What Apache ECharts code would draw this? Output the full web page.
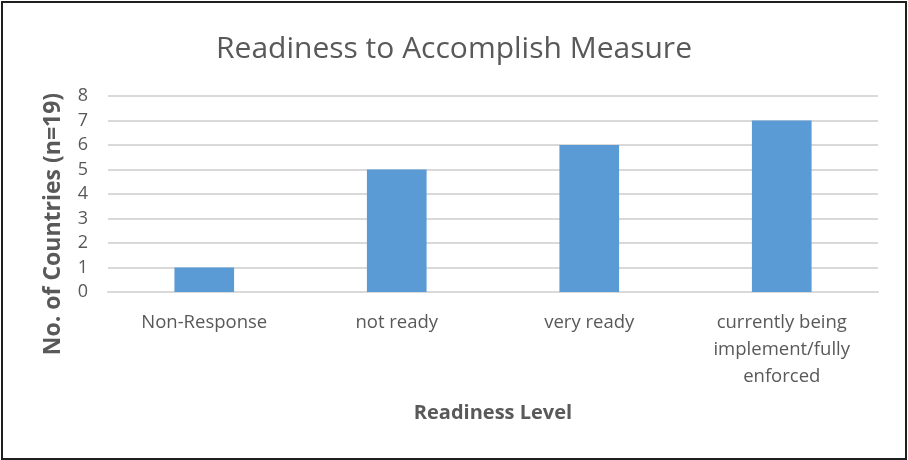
<!DOCTYPE html>
<html>
<head>
<meta charset="utf-8">
<script src="https://cdn.jsdelivr.net/npm/echarts@6/dist/echarts.min.js"></script>
<style>
    html, body {
        margin: 0;
        padding: 0;
        background: #fff;
    }
    #chart {
        position: absolute;
        left: 0;
        top: 0;
        width: 908px;
        height: 460px;
    }
    .frame {
        position: absolute;
        left: 1px;
        top: 1px;
        width: 902px;
        height: 455px;
        border: 2px solid #1f1f1f;
        pointer-events: none;
    }
</style>
</head>
<body>
<div id="chart"></div>
<div class="frame"></div>
<script>
const categories = ['Non-Response', 'not ready', 'very ready', 'currently being\nimplement/fully\nenforced']
const counts = [1, 5, 6, 7]
const yTicks = { min: 0, max: 8, interval: 1 }

const font = 'Open Sans, Noto Sans, sans-serif'
const textColor = '#595959'

const chart = echarts.init(document.getElementById('chart'))
chart.setOption({
    animation: false,
    title: {
        text: 'Readiness to Accomplish Measure',
        left: 'center',
        top: 29,
        textStyle: {
            fontFamily: font,
            fontSize: 30,
            fontWeight: 'normal',
            color: textColor,
        },
    },
    grid: {
        left: 108,
        right: 30,
        top: 96,
        bottom: 168,
    },
    xAxis: {
        type: 'category',
        data: categories,
        name: 'Readiness Level',
        nameLocation: 'middle',
        nameGap: 111,
        nameTextStyle: {
            fontFamily: font,
            fontSize: 20,
            fontWeight: 'bold',
            color: textColor,
        },
        axisLine: { lineStyle: { color: '#d9d9d9', width: 2 } },
        axisTick: { show: false },
        axisLabel: {
            interval: 0,
            margin: 17,
            fontFamily: font,
            fontSize: 18.5,
            lineHeight: 27,
            color: textColor,
        },
    },
    yAxis: {
        type: 'value',
        min: yTicks.min,
        max: yTicks.max,
        interval: yTicks.interval,
        name: 'No. of Countries (n=19)',
        nameLocation: 'middle',
        nameGap: 43,
        nameTextStyle: {
            fontFamily: font,
            fontSize: 23,
            fontWeight: 'bold',
            color: textColor,
            // Excel pushes the title a bit below the plot middle
            padding: [0, 60, 0, 0],
        },
        axisLine: { show: false },
        axisTick: { show: false },
        axisLabel: {
            margin: 20,
            fontFamily: font,
            fontSize: 18,
            color: textColor,
        },
        splitLine: { lineStyle: { color: '#d9d9d9', width: 2 } },
    },
    series: [
        {
            type: 'bar',
            data: counts,
            barWidth: '31%',
            itemStyle: { color: '#5b9bd5' },
        },
    ],
})
</script>
</body>
</html>
